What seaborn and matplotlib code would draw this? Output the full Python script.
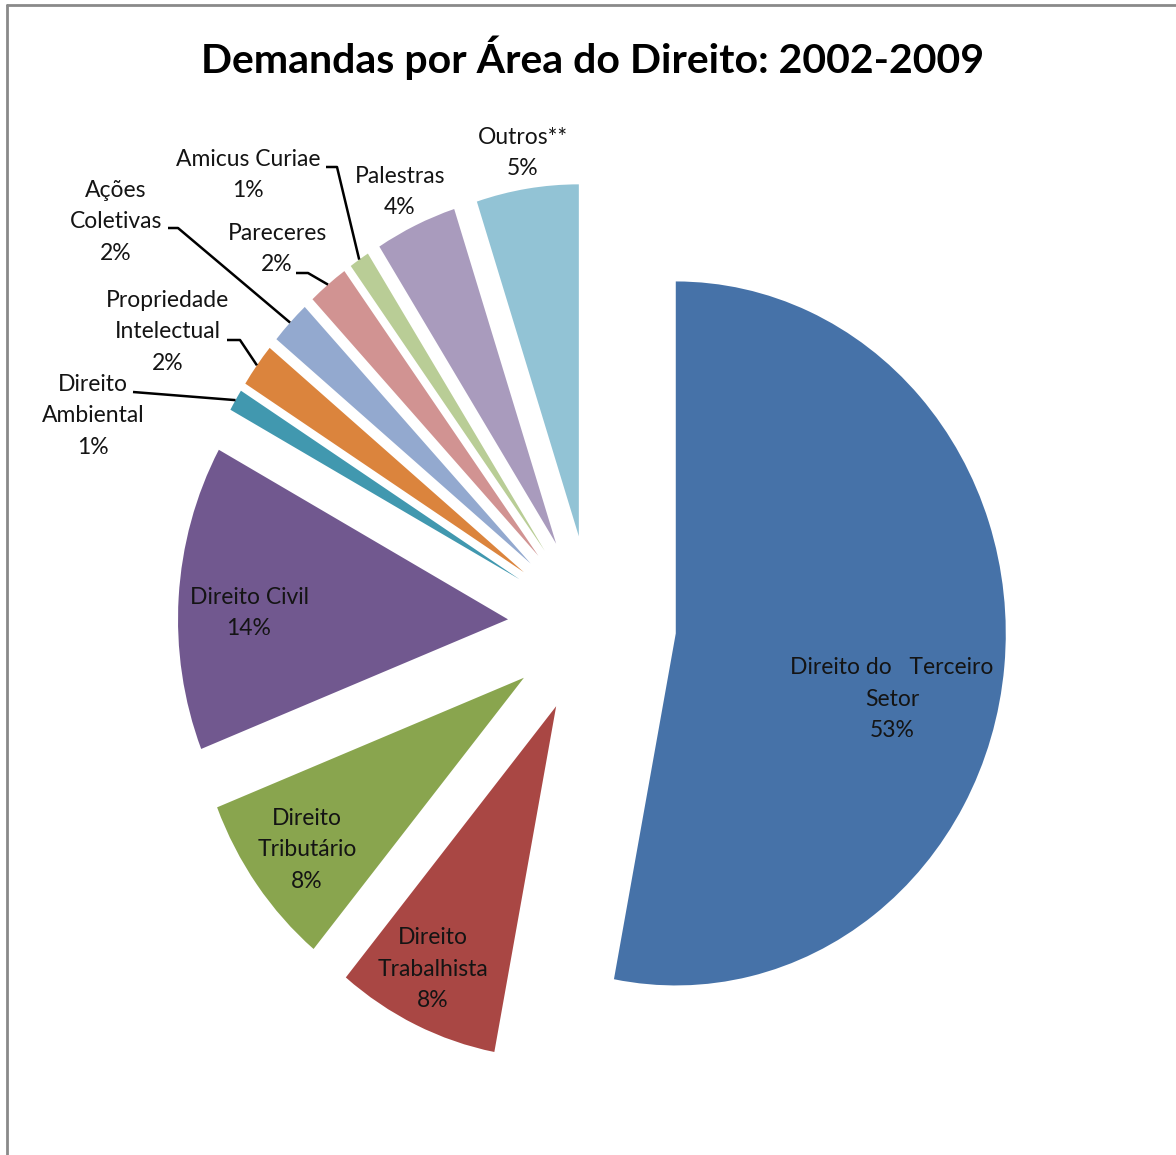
import numpy as np
import pandas as pd
import matplotlib
matplotlib.use("Agg")
import matplotlib.pyplot as plt
import seaborn as sns
from matplotlib.lines import Line2D

# ---------------- data ----------------
categories = ["Direito do   Terceiro\nSetor", "Direito\nTrabalhista", "Direito\nTributário",
              "Direito Civil", "Direito\nAmbiental", "Propriedade\nIntelectual",
              "Ações\nColetivas", "Pareceres", "Amicus Curiae", "Palestras", "Outros**"]
shares = [53, 8, 8, 14, 1, 2, 2, 2, 1, 4, 5]
colors = ["#4672A8", "#A94744", "#89A54E", "#71588F", "#4198AF", "#DB843D",
          "#93A9CF", "#D19392", "#B9CD96", "#A99BBD", "#92C3D5"]
title = "Demandas por Área do Direito: 2002-2009"

# ---------------- layout (pixels from top-left) ----------------
W, H = 1176, 1155
CX, CY, SX, SY = 592, 625, 330, 352      # pie centre and radius scale (px)
EXPLODE = 0.255
label_pos = [(892, 699), (433, 969), (307, 850), (249, 613), (93, 416), (168, 332),
             (116, 222), (277, 249), (248, 175), (400, 192), (523, 153)]
# leader-line starting points (label side); the end is the wedge's outer midpoint
leaders = {4: [(133, 392)],
           5: [(227, 340), (240, 340)],
           6: [(168, 228), (178, 228)],
           7: [(296, 273), (308, 273)],
           8: [(326, 167), (337, 167)]}

sns.set_theme(style="white")
plt.rcParams["font.family"] = ["Lato", "DejaVu Sans"]

fig = plt.figure(figsize=(W / 100, H / 100), dpi=100)
fig.patch.set_facecolor("white")
ax = fig.add_axes([0, 0, 1, 1])

df = pd.DataFrame({"cat": categories, "share": shares})
wedges, _ = ax.pie(df["share"], explode=[EXPLODE] * len(df), startangle=90,
                   counterclock=False, colors=colors,
                   wedgeprops=dict(linewidth=0))
ax.set_aspect("auto")
ax.set_xlim(-CX / SX, (W - CX) / SX)
ax.set_ylim((CY - H) / SY, CY / SY)
ax.axis("off")


def px2d(px, py):
    return (px - CX) / SX, (CY - py) / SY


for i, (cat, v) in enumerate(zip(df["cat"], df["share"])):
    x, y = px2d(*label_pos[i])
    ax.text(x, y, f"{cat}\n{v}%", ha="center", va="center", multialignment="center",
            fontsize=16.5, color="#141414", linespacing=1.6)

for i, pts in leaders.items():
    w = wedges[i]
    ang = np.deg2rad((w.theta1 + w.theta2) / 2)
    ex = w.center[0] + w.r * np.cos(ang)
    ey = w.center[1] + w.r * np.sin(ang)
    xs = [px2d(*p)[0] for p in pts] + [ex]
    ys = [px2d(*p)[1] for p in pts] + [ey]
    ax.plot(xs, ys, color="black", linewidth=1.8, solid_capstyle="butt")

fig.text(593 / W, 1 - 58 / H, title, ha="center", va="center",
         fontsize=29.5, fontweight="bold", color="black")

# chart frame (top and left edges visible)
fig.add_artist(Line2D([7 / W, 7 / W], [0, 1 - 5 / H], transform=fig.transFigure,
                      color="#8a8a8a", linewidth=2))
fig.add_artist(Line2D([7 / W, 1], [1 - 5 / H, 1 - 5 / H], transform=fig.transFigure,
                      color="#8a8a8a", linewidth=2))

fig.savefig("out.png", dpi=100, facecolor="white")
